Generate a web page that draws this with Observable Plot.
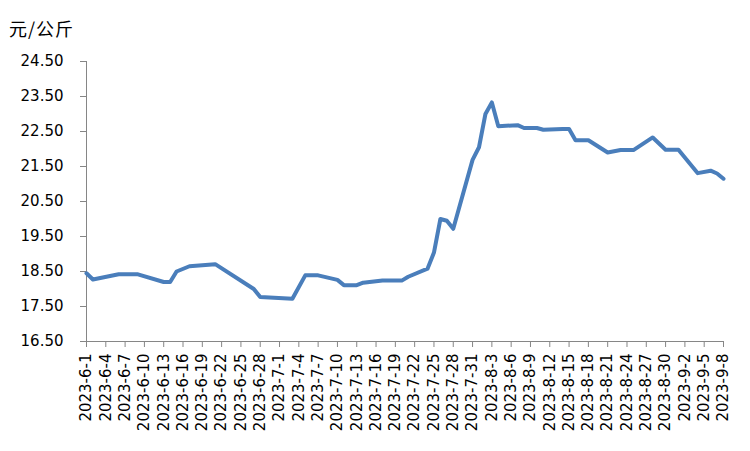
<!DOCTYPE html>
<html>
<head>
<meta charset="utf-8">
<script src="https://cdn.jsdelivr.net/npm/d3@7"></script>
<script src="https://cdn.jsdelivr.net/npm/@observablehq/plot@0.6"></script>
<style>
  html, body { margin: 0; padding: 0; background: #fff; }
  #wrap { position: relative; width: 750px; height: 451px; }
  #unit { position: absolute; left: 9px; top: 16px; font-family: "Noto Sans CJK SC", sans-serif; font-size: 18px; letter-spacing: 1px; color: #000; line-height: 24px; }
</style>
</head>
<body>
<div id="wrap"><div id="unit"></div><div id="chart"></div></div>
<script>
const unitLabel = "元/公斤";
const dates = ["2023-6-1","2023-6-2","2023-6-6","2023-6-9","2023-6-13","2023-6-14","2023-6-15","2023-6-17","2023-6-21","2023-6-27","2023-6-28","2023-7-3","2023-7-5","2023-7-7","2023-7-10","2023-7-11","2023-7-13","2023-7-14","2023-7-17","2023-7-20","2023-7-21","2023-7-24","2023-7-25","2023-7-26","2023-7-27","2023-7-28","2023-7-31","2023-8-1","2023-8-2","2023-8-3","2023-8-4","2023-8-7","2023-8-8","2023-8-10","2023-8-11","2023-8-14","2023-8-15","2023-8-16","2023-8-18","2023-8-21","2023-8-23","2023-8-25","2023-8-28","2023-8-30","2023-9-1","2023-9-4","2023-9-6","2023-9-7","2023-9-8"];
const prices = [18.45,18.27,18.42,18.42,18.2,18.2,18.5,18.65,18.71,18.0,17.77,17.72,18.39,18.39,18.26,18.11,18.11,18.18,18.24,18.24,18.35,18.58,19.04,20.0,19.95,19.72,21.69,22.05,23.0,23.33,22.65,22.68,22.6,22.6,22.55,22.57,22.57,22.25,22.25,21.9,21.97,21.97,22.33,21.98,21.98,21.31,21.38,21.3,21.15];
const xTickLabels = ["2023-6-1","2023-6-4","2023-6-7","2023-6-10","2023-6-13","2023-6-16","2023-6-19","2023-6-22","2023-6-25","2023-6-28","2023-7-1","2023-7-4","2023-7-7","2023-7-10","2023-7-13","2023-7-16","2023-7-19","2023-7-22","2023-7-25","2023-7-28","2023-7-31","2023-8-3","2023-8-6","2023-8-9","2023-8-12","2023-8-15","2023-8-18","2023-8-21","2023-8-24","2023-8-27","2023-8-30","2023-9-2","2023-9-5","2023-9-8"];
const yTicks = [16.5,17.5,18.5,19.5,20.5,21.5,22.5,23.5,24.5];

document.getElementById("unit").textContent = unitLabel;
const parse = s => { const [y,m,d] = s.split("-").map(Number); return new Date(Date.UTC(y, m-1, d)); };
const fmt = d => `${d.getUTCFullYear()}-${d.getUTCMonth()+1}-${d.getUTCDate()}`;
const data = dates.map((s, i) => ({date: parse(s), price: prices[i]}));
const xTicks = xTickLabels.map(parse);

const chart = Plot.plot({
  width: 750,
  height: 451,
  marginLeft: 86,
  marginRight: 27,
  marginTop: 61,
  marginBottom: 110,
  style: {fontFamily: "'DejaVu Sans', sans-serif", fontSize: "15px", color: "#000", background: "#fff"},
  x: {type: "utc", domain: [xTicks[0], xTicks[xTicks.length-1]], label: null},
  y: {domain: [16.5, 24.5], label: null},
  marks: [
    Plot.axisX({ticks: xTicks, tickFormat: fmt, tickRotate: -90, tickSize: 6, tickPadding: 6, stroke: "#868686", fill: "#000", letterSpacing: 1.2}),
    Plot.axisY({ticks: yTicks, tickFormat: d => d.toFixed(2), tickSize: 6, tickPadding: 17, stroke: "#868686", fill: "#000", letterSpacing: 1}),
    Plot.frame({anchor: "left", stroke: "#868686"}),
    Plot.frame({anchor: "bottom", stroke: "#868686"}),
    Plot.line(data, {x: "date", y: "price", stroke: "#4a7ebb", strokeWidth: 4, strokeLinejoin: "round", strokeLinecap: "round"})
  ]
});
document.getElementById("chart").appendChild(chart);
</script>
</body>
</html>
